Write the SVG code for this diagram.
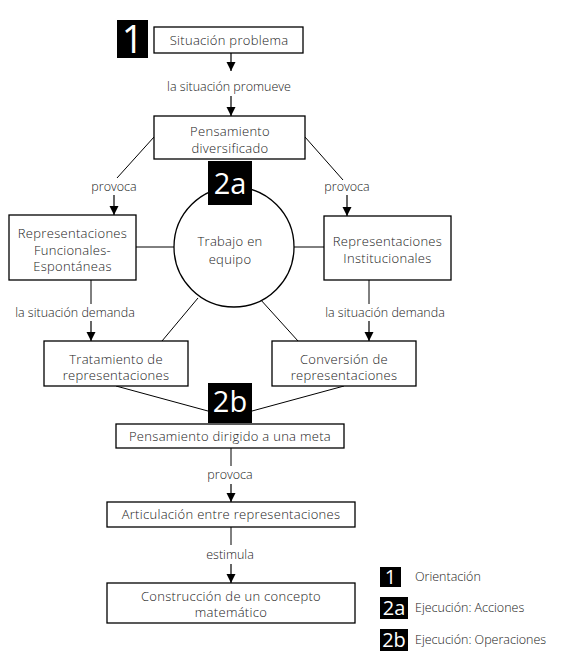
<svg xmlns="http://www.w3.org/2000/svg" width="566" height="663" viewBox="0 0 566 663">
<style>
.box{fill:#fff;stroke:#000;stroke-width:1.3}
.t{font-family:"Open Sans","Liberation Sans",sans-serif;font-size:13px;letter-spacing:0.3px;font-weight:300;fill:#222;text-anchor:middle}
.lbl{font-family:"Open Sans","Liberation Sans",sans-serif;font-size:12.5px;font-weight:300;fill:#222;text-anchor:middle}
.leg{font-family:"Open Sans","Liberation Sans",sans-serif;font-size:12.5px;font-weight:300;fill:#222}
.blk{fill:#000}
.num{font-family:"Open Sans","Liberation Sans",sans-serif;fill:#fff;text-anchor:middle}
.ln{stroke:#000;stroke-width:1;fill:none}
.ar{stroke:#000;stroke-width:1.2;fill:none;marker-end:url(#ah)}
</style>
<defs>
<marker id="ah" markerUnits="userSpaceOnUse" markerWidth="10" markerHeight="10" refX="9" refY="4.5" orient="auto">
<path d="M0,0 L9,4.5 L0,9 z" fill="#000"/>
</marker>
</defs>
<g id="connectors">
<line class="ar" x1="231" y1="53" x2="231" y2="71"/>
<text class="lbl" x="229" y="91">la situación promueve</text>
<line class="ar" x1="231" y1="96" x2="231" y2="116"/>
<line class="ln" x1="154" y1="137" x2="117" y2="178"/>
<text class="lbl" x="114" y="191">provoca</text>
<line class="ar" x1="114" y1="195" x2="114" y2="215"/>
<line class="ln" x1="305" y1="137" x2="343" y2="180"/>
<text class="lbl" x="347" y="191">provoca</text>
<line class="ar" x1="347" y1="195" x2="347" y2="216"/>
<line class="ln" x1="136" y1="247" x2="174" y2="247"/>
<line class="ln" x1="294" y1="247" x2="324" y2="247"/>
<line class="ln" x1="198" y1="298" x2="162" y2="341"/>
<line class="ln" x1="260" y1="299" x2="298" y2="341"/>
<line class="ln" x1="91" y1="280" x2="91" y2="304"/>
<text class="lbl" x="75" y="317">la situación demanda</text>
<line class="ar" x1="91" y1="321" x2="91" y2="341"/>
<line class="ln" x1="369" y1="280" x2="369" y2="304"/>
<text class="lbl" x="385" y="317">la situación demanda</text>
<line class="ar" x1="369" y1="321" x2="369" y2="341"/>
<line class="ln" x1="116" y1="386" x2="230" y2="417"/>
<line class="ln" x1="344" y1="386" x2="230" y2="417"/>
<line class="ln" x1="231" y1="448" x2="231" y2="466"/>
<text class="lbl" x="230" y="479">provoca</text>
<line class="ar" x1="231" y1="484" x2="231" y2="502"/>
<line class="ln" x1="231" y1="527" x2="231" y2="545"/>
<text class="lbl" x="230" y="559">estimula</text>
<line class="ar" x1="231" y1="564" x2="231" y2="583"/>
</g>
<g id="n-situacion">
<rect class="box" x="154" y="27" width="149" height="26"/>
<text class="t" x="229" y="45">Situación problema</text>
</g>
<g id="n-pensamiento-div">
<rect class="box" x="154" y="116" width="151" height="43"/>
<text class="t" x="230" y="136">Pensamiento</text>
<text class="t" x="230" y="152.5">diversificado</text>
</g>
<g id="n-rep-func">
<rect class="box" x="9" y="215" width="127" height="65"/>
<text class="t" x="72.5" y="238">Representaciones</text>
<text class="t" x="72.5" y="254.5">Funcionales-</text>
<text class="t" x="72.5" y="271">Espontáneas</text>
</g>
<g id="n-rep-inst">
<rect class="box" x="324" y="216" width="127" height="64"/>
<text class="t" x="387.5" y="246">Representaciones</text>
<text class="t" x="387.5" y="262.5">Institucionales</text>
</g>
<g id="n-trabajo">
<circle cx="234" cy="247" r="60" fill="#fff" stroke="#000" stroke-width="1.3"/>
<text class="t" x="230" y="245.5">Trabajo en</text>
<text class="t" x="230" y="263.5">equipo</text>
</g>
<g id="n-tratamiento">
<rect class="box" x="44" y="341" width="144" height="45"/>
<text class="t" x="116" y="363.5">Tratamiento de</text>
<text class="t" x="116" y="380">representaciones</text>
</g>
<g id="n-conversion">
<rect class="box" x="272" y="341" width="144" height="45"/>
<text class="t" x="344" y="363.5">Conversión de</text>
<text class="t" x="344" y="380">representaciones</text>
</g>
<g id="n-pensamiento-meta">
<rect class="box" x="116" y="424" width="228" height="24"/>
<text class="t" x="230" y="440.5">Pensamiento dirigido a una meta</text>
</g>
<g id="n-articulacion">
<rect class="box" x="107" y="502" width="248" height="25"/>
<text class="t" x="231" y="519">Articulación entre representaciones</text>
</g>
<g id="n-construccion">
<rect class="box" x="107" y="583" width="248" height="40"/>
<text class="t" x="231" y="600.5">Construcción de un concepto</text>
<text class="t" x="231" y="617">matemático</text>
</g>
<g id="badge-1">
<rect class="blk" x="117" y="20" width="31" height="38"/>
<text class="num" x="132.5" y="53" font-size="38">1</text>
</g>
<g id="badge-2a">
<rect class="blk" x="208" y="161" width="44" height="44"/>
<text class="num" x="230" y="194" font-size="29">2a</text>
</g>
<g id="badge-2b">
<rect class="blk" x="208" y="383" width="44" height="40"/>
<text class="num" x="230" y="412" font-size="29">2b</text>
</g>
<g id="legend">
<rect class="blk" x="380" y="567" width="21" height="20"/>
<text class="num" x="390.5" y="584" font-size="20">1</text>
<text class="leg" x="415" y="581">Orientación</text>
<rect class="blk" x="380" y="597" width="28" height="22"/>
<text class="num" x="394" y="615" font-size="20">2a</text>
<text class="leg" x="415" y="612">Ejecución: Acciones</text>
<rect class="blk" x="380" y="629" width="28" height="22"/>
<text class="num" x="394" y="647" font-size="20">2b</text>
<text class="leg" x="415" y="644">Ejecución: Operaciones</text>
</g>
</svg>
